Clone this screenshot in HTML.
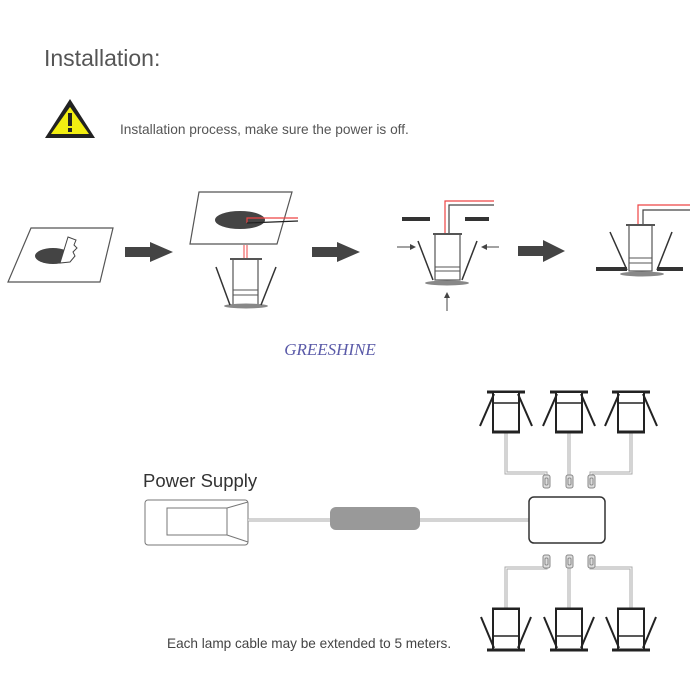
<!DOCTYPE html>
<html><head><meta charset="utf-8"><style>
body{margin:0;background:#fff;}
svg{display:block;font-family:"Liberation Sans",sans-serif;}
</style></head><body>
<svg width="700" height="700" viewBox="0 0 700 700" xmlns="http://www.w3.org/2000/svg">
<defs>
<g id="lampT">
 <line x1="-19" y1="392" x2="19" y2="392" stroke="#222" stroke-width="3"/>
 <rect x="-13" y="392" width="26" height="40" fill="#fff" stroke="#222" stroke-width="2"/>
 <line x1="-13" y1="403" x2="13" y2="403" stroke="#222" stroke-width="1.5"/>
 <line x1="-14" y1="432" x2="14" y2="432" stroke="#222" stroke-width="3"/>
 <line x1="-12" y1="394" x2="-26" y2="426" stroke="#222" stroke-width="2"/>
 <line x1="12" y1="394" x2="26" y2="426" stroke="#222" stroke-width="2"/>
</g>
<g id="lampB">
 <line x1="-14" y1="609" x2="14" y2="609" stroke="#222" stroke-width="3"/>
 <rect x="-13" y="609" width="26" height="41" fill="#fff" stroke="#222" stroke-width="2"/>
 <line x1="-13" y1="636" x2="13" y2="636" stroke="#222" stroke-width="1.5"/>
 <line x1="-19" y1="650" x2="19" y2="650" stroke="#222" stroke-width="3"/>
 <line x1="-25" y1="617" x2="-12" y2="648" stroke="#222" stroke-width="2"/>
 <line x1="25" y1="617" x2="12" y2="648" stroke="#222" stroke-width="2"/>
</g>
<g id="conn"><rect x="-3" y="0" width="7" height="13" rx="2" fill="#ddd" stroke="#888" stroke-width="1"/><rect x="-1" y="3" width="3" height="7" rx="1" fill="none" stroke="#777" stroke-width="0.8"/></g>
</defs>

<text x="44" y="66" font-size="23" fill="#555">Installation:</text>
<polygon points="70,99 95,138 45,138" fill="#222"/>
<polygon points="70,107 89,134 51,134" fill="#f2ee12"/>
<rect x="68" y="113" width="4" height="13" fill="#222"/>
<rect x="68" y="128" width="4" height="4" fill="#222"/>
<text x="120" y="134" font-size="13.7" fill="#555">Installation process, make sure the power is off.</text>

<!-- step1 -->
<polygon points="31,228 113,228 100,282 8,282" fill="#fff" stroke="#555" stroke-width="1.2"/>
<ellipse cx="53" cy="256" rx="18" ry="8" fill="#444"/>
<polygon points="68,237 76,240 74,245 77,248 73,252 75,256 70,262 60,263" fill="#fff" stroke="#444" stroke-width="1"/>
<polygon points="125,247 150,247 150,242 173,252 150,262 150,257 125,257" fill="#444"/>

<!-- step2 -->
<polygon points="199,192 292,192 277,244 190,244" fill="#fff" stroke="#555" stroke-width="1.2"/>
<ellipse cx="240" cy="220" rx="25" ry="9" fill="#444"/>
<polyline points="247,223 247,218 298,218" fill="none" stroke="#e44" stroke-width="1.2"/>
<polyline points="247,223 298,221" fill="none" stroke="#222" stroke-width="1.2"/>
<line x1="244" y1="245" x2="244" y2="259" stroke="#e44" stroke-width="1"/>
<line x1="247" y1="245" x2="247" y2="259" stroke="#e44" stroke-width="1"/>
<rect x="233" y="259" width="25" height="46" fill="#fff" stroke="#555" stroke-width="1.2"/>
<line x1="230" y1="259" x2="262" y2="259" stroke="#555" stroke-width="2"/>
<line x1="233" y1="290" x2="258" y2="290" stroke="#555" stroke-width="1"/>
<line x1="233" y1="295" x2="258" y2="295" stroke="#555" stroke-width="1"/>
<ellipse cx="246" cy="306" rx="22" ry="2.5" fill="#888"/>
<line x1="216" y1="267" x2="230" y2="305" stroke="#333" stroke-width="1.5"/>
<line x1="276" y1="267" x2="261" y2="305" stroke="#333" stroke-width="1.5"/>
<polygon points="312,247 337,247 337,242 360,252 337,262 337,257 312,257" fill="#444"/>

<!-- step3 -->
<rect x="402" y="217" width="28" height="4" fill="#333"/>
<rect x="465" y="217" width="24" height="4" fill="#333"/>
<polyline points="445,233 445,201 494,201" fill="none" stroke="#e44" stroke-width="1.2"/>
<polyline points="449,233 449,205 494,205" fill="none" stroke="#444" stroke-width="1.2"/>
<rect x="435" y="234" width="25" height="46" fill="#fff" stroke="#555" stroke-width="1.2"/>
<line x1="433" y1="234" x2="462" y2="234" stroke="#555" stroke-width="2"/>
<line x1="435" y1="267" x2="460" y2="267" stroke="#555" stroke-width="1"/>
<line x1="435" y1="271" x2="460" y2="271" stroke="#555" stroke-width="1"/>
<ellipse cx="447" cy="283" rx="22" ry="2.5" fill="#888"/>
<line x1="418" y1="241" x2="433" y2="280" stroke="#333" stroke-width="1.5"/>
<line x1="477" y1="241" x2="462" y2="280" stroke="#333" stroke-width="1.5"/>
<line x1="397" y1="247" x2="413" y2="247" stroke="#444" stroke-width="1"/><polygon points="416,247 410,244 410,250" fill="#444"/>
<line x1="499" y1="247" x2="484" y2="247" stroke="#444" stroke-width="1"/><polygon points="481,247 487,244 487,250" fill="#444"/>
<line x1="447" y1="311" x2="447" y2="296" stroke="#444" stroke-width="1"/><polygon points="447,292 444,298 450,298" fill="#444"/>
<polygon points="518,246 543,246 543,240 565,251 543,262 543,256 518,256" fill="#444"/>

<!-- step4 -->
<polyline points="638,225 638,205 690,205" fill="none" stroke="#e44" stroke-width="1.2"/>
<polyline points="643,225 643,210 690,210" fill="none" stroke="#444" stroke-width="1.2"/>
<rect x="629" y="225" width="23" height="46" fill="#fff" stroke="#555" stroke-width="1.2"/>
<line x1="626" y1="225" x2="655" y2="225" stroke="#555" stroke-width="2"/>
<line x1="629" y1="258" x2="652" y2="258" stroke="#555" stroke-width="1"/>
<line x1="629" y1="263" x2="652" y2="263" stroke="#555" stroke-width="1"/>
<rect x="596" y="267" width="31" height="4" fill="#333"/>
<rect x="657" y="267" width="26" height="4" fill="#333"/>
<ellipse cx="642" cy="274" rx="22" ry="2.5" fill="#888"/>
<line x1="610" y1="232" x2="627" y2="270" stroke="#333" stroke-width="1.5"/>
<line x1="672" y1="232" x2="657" y2="270" stroke="#333" stroke-width="1.5"/>

<text x="330" y="355" font-size="17" font-family="Liberation Serif,serif" font-style="italic" fill="#5a5aa8" text-anchor="middle">GREESHINE</text>

<!-- power supply -->
<text x="143" y="487" font-size="18.5" fill="#333">Power Supply</text>
<rect x="145" y="500" width="103" height="45" rx="3" fill="#fff" stroke="#777" stroke-width="1"/>
<rect x="167" y="508" width="60" height="27" fill="#fff" stroke="#777" stroke-width="1"/>
<line x1="227" y1="508" x2="248" y2="502" stroke="#777"/>
<line x1="227" y1="535" x2="248" y2="542" stroke="#777"/>
<line x1="248" y1="520" x2="529" y2="520" stroke="#aaa" stroke-width="3"/>
<line x1="248" y1="520" x2="529" y2="520" stroke="#fff" stroke-width="1"/>
<rect x="330" y="507" width="90" height="23" rx="6" fill="#999"/>
<rect x="529" y="497" width="76" height="46" rx="5" fill="#fff" stroke="#333" stroke-width="1.5"/>

<!-- wires -->
<g fill="none" stroke="#aaa" stroke-width="3">
<polyline points="506,432 506,473 546,473 546,480"/><polyline points="569,432 569,478"/><polyline points="631,432 631,473 591,473 591,480"/>
<polyline points="546,563 546,568 506,568 506,609"/><polyline points="569,563 569,609"/><polyline points="591,563 591,568 631,568 631,609"/>
</g>
<g fill="none" stroke="#fff" stroke-width="1">
<polyline points="506,432 506,473 546,473 546,480"/><polyline points="569,432 569,478"/><polyline points="631,432 631,473 591,473 591,480"/>
<polyline points="546,563 546,568 506,568 506,609"/><polyline points="569,563 569,609"/><polyline points="591,563 591,568 631,568 631,609"/>
</g>
<use href="#conn" x="546" y="475"/><use href="#conn" x="569" y="475"/><use href="#conn" x="591" y="475"/>
<use href="#conn" x="546" y="555"/><use href="#conn" x="569" y="555"/><use href="#conn" x="591" y="555"/>
<use href="#lampT" x="506"/><use href="#lampT" x="569"/><use href="#lampT" x="631"/>
<use href="#lampB" x="506"/><use href="#lampB" x="569"/><use href="#lampB" x="631"/>

<text x="167" y="648" font-size="13.6" fill="#444">Each lamp cable may be extended to 5 meters.</text>
</svg>
</body></html>
